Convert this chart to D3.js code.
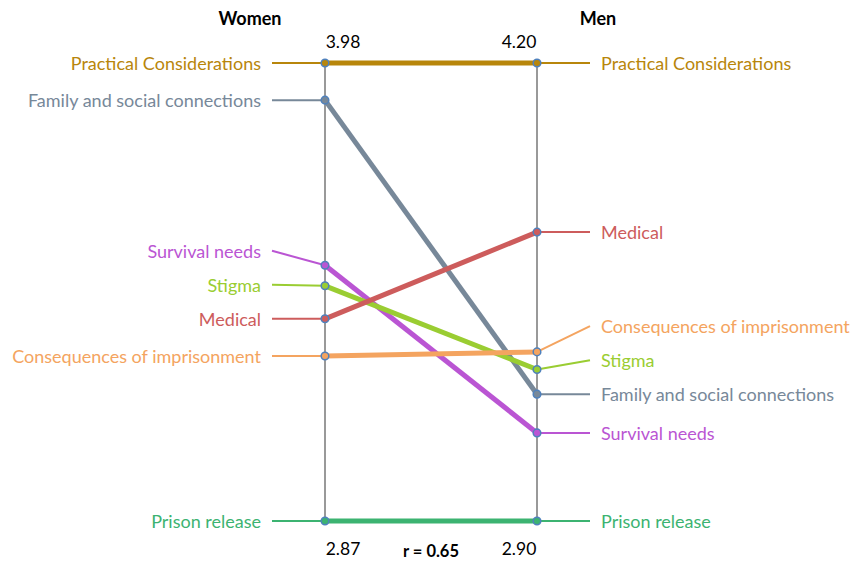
<!DOCTYPE html>
<html>
<head>
<meta charset="utf-8">
<script src="https://cdn.jsdelivr.net/npm/d3@7"></script>
<style>
  body { margin: 0; background: #fff; }
  svg { font-family: Lato, "Open Sans", sans-serif; }
</style>
</head>
<body>
<svg id="chart" width="853" height="561"></svg>
<script>
// --- data ---
const categories = ["Practical Considerations", "Family and social connections", "Survival needs",
  "Stigma", "Medical", "Consequences of imprisonment", "Prison release"];
const women = [3.98, 3.89, 3.49, 3.44, 3.36, 3.27, 2.87];
const men = [4.20, 3.26, 3.15, 3.33, 3.72, 3.38, 2.90];
const colors = ["#b8860b", "#778899", "#ba55d3", "#9acd32", "#cd5c5c", "#f4a460", "#3cb371"];
const groups = ["Women", "Men"];
const correlation = "r = 0.65";

const svg = d3.select("#chart");
const xL = 325, xR = 537, yTop = 63, yBottom = 521;

const yW = d3.scaleLinear().domain(d3.extent(women)).range([yBottom, yTop]);
const yM = d3.scaleLinear().domain(d3.extent(men)).range([yBottom, yTop]);

const rows = categories.map((c, i) => ({ name: c, w: women[i], m: men[i], color: colors[i] }));

// push labels apart so they don't overlap (work from bottom up)
function spread(ys, gap) {
  const order = ys.map((y, i) => i).sort((a, b) => ys[b] - ys[a]);
  const out = ys.slice();
  for (let k = 1; k < order.length; k++) {
    const prev = out[order[k - 1]], i = order[k];
    if (prev - out[i] < gap) out[i] = prev - gap;
  }
  return out;
}
const labW = spread(rows.map(d => yW(d.w)), 34);
const labM = spread(rows.map(d => yM(d.m)), 34);

// axes
svg.append("line").attr("x1", xL).attr("x2", xL).attr("y1", yTop).attr("y2", yBottom)
  .attr("stroke", "#999").attr("stroke-width", 2);
svg.append("line").attr("x1", xR).attr("x2", xR).attr("y1", yTop).attr("y2", yBottom)
  .attr("stroke", "#999").attr("stroke-width", 2);

// slope lines
svg.selectAll("line.slope").data(rows).enter().append("line")
  .attr("class", "slope")
  .attr("x1", xL).attr("y1", d => yW(d.w))
  .attr("x2", xR).attr("y2", d => yM(d.m))
  .attr("stroke", d => d.color).attr("stroke-width", 5);

// label connectors
svg.selectAll("line.connL").data(rows).enter().append("line")
  .attr("x1", 272).attr("y1", (d, i) => labW[i])
  .attr("x2", xL).attr("y2", d => yW(d.w))
  .attr("stroke", d => d.color).attr("stroke-width", 2);
svg.selectAll("line.connR").data(rows).enter().append("line")
  .attr("x1", xR).attr("y1", d => yM(d.m))
  .attr("x2", 590).attr("y2", (d, i) => labM[i])
  .attr("stroke", d => d.color).attr("stroke-width", 2);

// labels
svg.selectAll("text.labL").data(rows).enter().append("text")
  .attr("x", 261).attr("y", (d, i) => labW[i]).attr("dy", "0.38em")
  .attr("text-anchor", "end").attr("font-size", 18)
  .attr("fill", d => d.color).text(d => d.name);
svg.selectAll("text.labR").data(rows).enter().append("text")
  .attr("x", 601).attr("y", (d, i) => labM[i]).attr("dy", "0.38em")
  .attr("font-size", 18)
  .attr("fill", d => d.color).text(d => d.name);

// points
svg.selectAll("circle.pw").data(rows).enter().append("circle")
  .attr("cx", xL).attr("cy", d => yW(d.w)).attr("r", 3.8)
  .attr("fill", d => d.color).attr("stroke", "#4f81bd").attr("stroke-width", 1.5);
svg.selectAll("circle.pm").data(rows).enter().append("circle")
  .attr("cx", xR).attr("cy", d => yM(d.m)).attr("r", 3.8)
  .attr("fill", d => d.color).attr("stroke", "#4f81bd").attr("stroke-width", 1.5);

// headers
svg.append("text").attr("x", 250).attr("y", 25).attr("text-anchor", "middle")
  .attr("font-size", 18).attr("font-weight", "bold").text(groups[0]);
svg.append("text").attr("x", 598).attr("y", 25).attr("text-anchor", "middle")
  .attr("font-size", 18).attr("font-weight", "bold").text(groups[1]);

// extreme values
const fmt = d3.format(".2f");
svg.append("text").attr("x", xL + 18).attr("y", 48).attr("text-anchor", "middle")
  .attr("font-size", 17.5).text(fmt(d3.max(women)));
svg.append("text").attr("x", xR - 18).attr("y", 48).attr("text-anchor", "middle")
  .attr("font-size", 17.5).text(fmt(d3.max(men)));
svg.append("text").attr("x", xL + 18).attr("y", 555).attr("text-anchor", "middle")
  .attr("font-size", 17.5).text(fmt(d3.min(women)));
svg.append("text").attr("x", xR - 18).attr("y", 555).attr("text-anchor", "middle")
  .attr("font-size", 17.5).text(fmt(d3.min(men)));
svg.append("text").attr("x", 431).attr("y", 557).attr("text-anchor", "middle")
  .attr("font-size", 16.5).attr("font-weight", "bold").text(correlation);
</script>
</body>
</html>
